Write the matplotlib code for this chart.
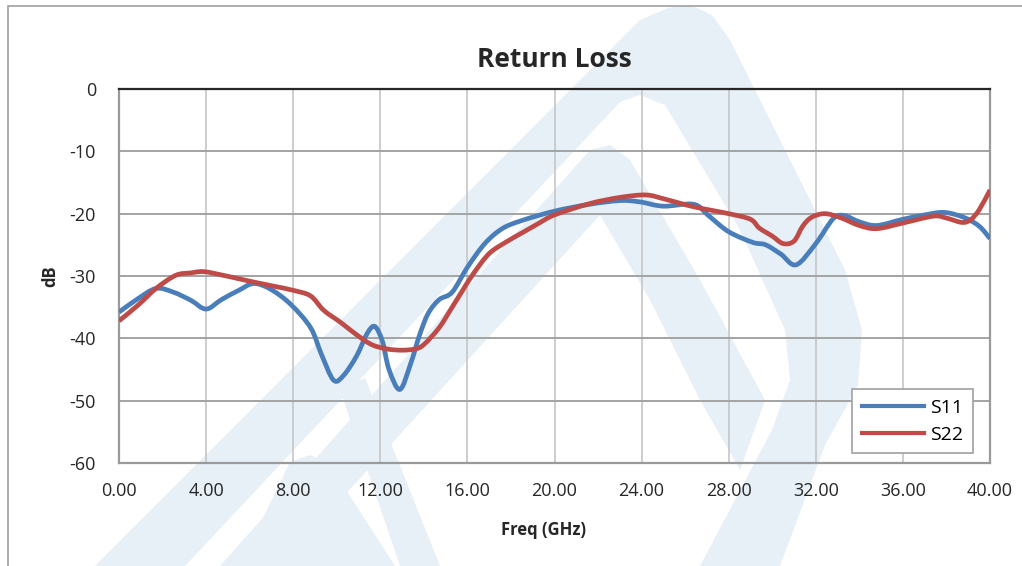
import matplotlib
matplotlib.use('Agg')
import matplotlib.pyplot as plt
from matplotlib.patches import Rectangle, Polygon, PathPatch
from matplotlib.path import Path
from matplotlib.lines import Line2D

plt.rcParams['font.family'] = ['Open Sans', 'DejaVu Sans']
plt.rcParams['axes.unicode_minus'] = False

# Datos (frecuencia en GHz, perdidas en dB)
freq_s11 = [0, 0.8, 1.7, 2.5, 3.3, 4.0, 4.7, 5.5, 6.2, 7.0, 7.9, 8.8, 9.3, 9.85,
            10.3, 10.9, 11.4, 11.75, 12.1, 12.4, 12.9, 13.4, 13.8, 14.2, 14.7,
            15.3, 16.0, 16.8, 17.6, 18.5, 20.0, 21.6, 23.0, 23.9, 25.0, 26.4,
            27.1, 28.0, 29.1, 29.7, 30.4, 31.1, 32.0, 32.8, 33.3, 34.0, 34.8,
            36.0, 37.0, 37.9, 38.8, 39.5, 40.0]
s11 = [-35.8, -33.8, -32.0, -32.6, -33.9, -35.3, -33.8, -32.3, -31.2, -32.2,
       -34.6, -38.3, -42.6, -46.7, -46.0, -42.9, -39.2, -38.1, -40.5, -45.0,
       -48.2, -44.0, -39.5, -36.0, -33.8, -32.6, -28.6, -24.8, -22.4, -21.1,
       -19.6, -18.5, -17.9, -18.1, -18.8, -18.5, -20.4, -22.9, -24.6, -25.0,
       -26.5, -28.2, -24.8, -20.8, -20.3, -21.3, -21.9, -20.9, -20.2, -19.8,
       -20.6, -22.0, -24.0]

freq_s22 = [0, 0.9, 1.7, 2.6, 3.3, 3.9, 4.8, 5.7, 6.5, 7.2, 8.0, 8.8, 9.4, 10.2,
            10.9, 11.6, 12.3, 13.0, 13.6, 14.0, 14.7, 15.3, 15.8, 16.3, 17.0,
            17.8, 18.6, 19.3, 20.0, 21.6, 23.0, 24.2, 25.1, 26.4, 28.0, 29.0,
            29.4, 30.0, 30.5, 31.0, 31.4, 31.8, 32.4, 33.1, 34.0, 34.8, 36.0,
            37.4, 38.0, 38.7, 39.1, 39.5, 40.0]
s22 = [-37.2, -34.6, -32.0, -29.9, -29.5, -29.3, -29.9, -30.6, -31.2, -31.7,
       -32.3, -33.2, -35.5, -37.5, -39.4, -41.0, -41.7, -41.9, -41.7, -41.0,
       -38.3, -35.0, -32.2, -29.5, -26.4, -24.5, -22.9, -21.5, -20.2, -18.4,
       -17.4, -17.0, -17.7, -18.9, -20.0, -20.9, -22.3, -23.6, -24.8, -24.4,
       -22.0, -20.6, -20.0, -20.6, -21.9, -22.4, -21.5, -20.4, -20.7, -21.4,
       -21.0, -19.4, -16.2]

xticks = [0, 4, 8, 12, 16, 20, 24, 28, 32, 36, 40]
yticks = [0, -10, -20, -30, -40, -50, -60]

fig = plt.figure(figsize=(10.22, 5.66), dpi=100)
W, H = 1022.0, 566.0

# marca de agua de fondo (aproximada, en pixeles de la imagen)
wm = '#e7eff7'
def mancha(pts):
    fig.add_artist(Polygon([(p[0] / W, 1 - p[1] / H) for p in pts], closed=True,
                           transform=fig.transFigure, facecolor=wm,
                           edgecolor='none', zorder=0))

mancha([(95, 566), (640, 20), (668, 8), (690, 5), (712, 15), (730, 40),
        (845, 270), (862, 330), (858, 385), (825, 445), (780, 566),
        (700, 566), (772, 430), (790, 380), (785, 330), (740, 230),
        (665, 105), (640, 95), (620, 102), (185, 566)])
mancha([(220, 566), (590, 150), (610, 145), (630, 160), (700, 280),
        (765, 400), (740, 470), (700, 400), (650, 300), (600, 215),
        (280, 566)])
mancha([(240, 566), (290, 462), (310, 455), (330, 465), (395, 566)])
mancha([(340, 390), (365, 378), (440, 566), (400, 566)])

# marco exterior
fig.add_artist(Rectangle((8 / W, -0.1), 1.2, 1 - 6 / H + 0.1,
                         transform=fig.transFigure, fill=False,
                         edgecolor='#a0a0a0', lw=1.2, zorder=1))

ax = fig.add_axes([119 / W, 1 - 463 / H, 871 / W, 374 / H])
ax.set_facecolor('none')

# linea suavizada tipo Excel (bezier que pasa por cada punto)
def linea_suave(xs, ys, color):
    n = len(xs)
    verts = [(xs[0], ys[0])]
    codes = [Path.MOVETO]
    for i in range(n - 1):
        a = max(i - 1, 0)
        b = min(i + 2, n - 1)
        c1 = (xs[i] + (xs[i + 1] - xs[a]) / 6.0, ys[i] + (ys[i + 1] - ys[a]) / 6.0)
        c2 = (xs[i + 1] - (xs[b] - xs[i]) / 6.0, ys[i + 1] - (ys[b] - ys[i]) / 6.0)
        verts += [c1, c2, (xs[i + 1], ys[i + 1])]
        codes += [Path.CURVE4] * 3
    ax.add_patch(PathPatch(Path(verts, codes), fill=False, edgecolor=color,
                           lw=3.4, joinstyle='round', capstyle='butt', zorder=3))

azul = '#4a7ebb'
rojo = '#be4b48'
linea_suave(freq_s11, s11, azul)
linea_suave(freq_s22, s22, rojo)

ax.set_xlim(0, 40)
ax.set_ylim(-60, 0)
ax.set_xticks(xticks)
ax.set_xticklabels(['%.2f' % t for t in xticks])
ax.set_yticks(yticks)
ax.tick_params(length=0, labelsize=13, colors='#262626')
ax.tick_params(axis='x', pad=14)
ax.tick_params(axis='y', pad=16.5)

# cuadricula
for t in xticks[1:-1]:
    ax.axvline(t, color='#c6c6c6', lw=1.2, zorder=1)
for t in yticks[1:-1]:
    ax.axhline(t, color='#a3a3a3', lw=1.4, zorder=1)

for lado in ['left', 'bottom', 'right']:
    ax.spines[lado].set_color('#9a9a9a')
    ax.spines[lado].set_linewidth(1.6)
ax.spines['top'].set_color('#262626')
ax.spines['top'].set_linewidth(1.6)

ax.set_title('Return Loss', fontsize=19, fontweight='bold', color='#262626', pad=15.5)
ax.set_xlabel('Freq (GHz)', fontsize=12, fontweight='bold', color='#262626')
ax.set_ylabel('dB', fontsize=12, fontweight='bold', color='#262626')
ax.xaxis.set_label_coords(0.487, -0.154)
ax.yaxis.set_label_coords(-0.069, 0.5)

handles = [Line2D([], [], color=azul, lw=3.0), Line2D([], [], color=rojo, lw=3.0)]
leg = ax.legend(handles, ['S11', 'S22'], loc='lower right',
                bbox_to_anchor=(0.9805, 0.026), borderaxespad=0, fontsize=14,
                frameon=True, fancybox=False, handlelength=3.2, borderpad=0.5,
                labelspacing=0.45, handletextpad=0.3)
leg.get_frame().set_edgecolor('#a0a0a0')
leg.get_frame().set_linewidth(1.2)
leg.get_frame().set_facecolor('white')
leg.get_frame().set_alpha(1)
leg.set_zorder(5)

fig.savefig('out.png', dpi=100)
